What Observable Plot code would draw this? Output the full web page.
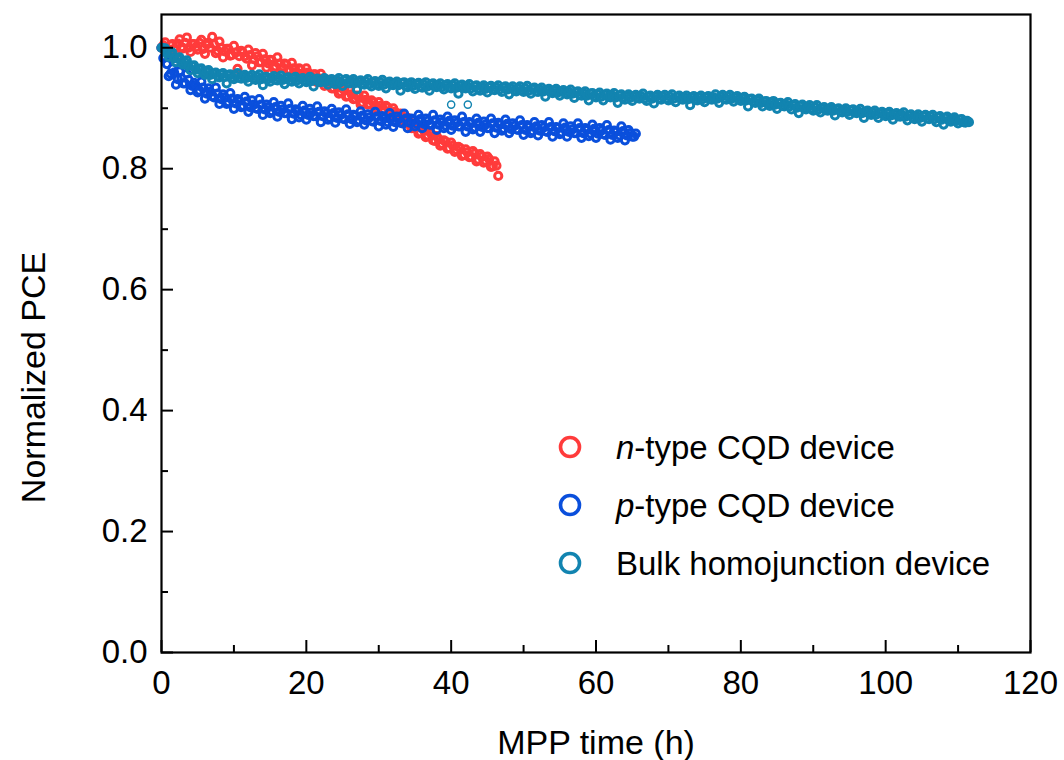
<!DOCTYPE html>
<html>
<head>
<meta charset="utf-8">
<script src="https://cdn.jsdelivr.net/npm/d3@7"></script>
<script src="https://cdn.jsdelivr.net/npm/@observablehq/plot@0.6"></script>
<style>
  body { margin: 0; background: #fff; }
  #chart { position: relative; width: 1064px; height: 760px; font-family: "Liberation Sans", Arial, sans-serif; }
  #legend { position: absolute; left: 0; top: 0; pointer-events: none; }
</style>
</head>
<body>
<div id="chart"></div>
<script>
// MPP tracking: normalized PCE, readings on the hour and half hour (…PCE)
// and on the quarter hours in between (…PCEq)
const stepHours = 0.5;

const nTypePCE = [
  1.000,1.009,0.992,1.006,0.990,1.014,0.999,1.017,0.993,1.006,
  0.997,1.013,0.990,1.008,1.018,0.991,1.010,0.984,0.998,0.987,
  1.003,0.965,0.995,0.986,0.997,0.971,0.991,0.976,0.990,0.967,
  0.980,0.966,0.984,0.958,0.974,0.964,0.975,0.953,0.966,0.953,
  0.966,0.946,0.956,0.943,0.957,0.937,0.947,0.933,0.943,0.924,
  0.933,0.919,0.930,0.915,0.921,0.906,0.921,0.906,0.913,0.897,
  0.910,0.896,0.904,0.888,0.900,0.885,0.891,0.875,0.884,0.867,
  0.874,0.858,0.867,0.852,0.862,0.847,0.854,0.838,0.847,0.833,
  0.843,0.828,0.836,0.821,0.832,0.819,0.829,0.812,0.824,0.810,
  0.820,0.803,0.812,0.788
];
const nTypePCEq = [
  1.004,0.998,1.004,0.998,1.007,1.001,1.008,1.000,1.006,1.001,
  1.008,0.998,1.005,1.000,1.006,0.995,1.000,0.994,0.998,0.988,
  0.992,0.986,0.992,0.982,0.988,0.981,0.986,0.976,0.981,0.974,
  0.979,0.969,0.974,0.967,0.972,0.962,0.966,0.959,0.964,0.954,
  0.959,0.952,0.956,0.945,0.949,0.941,0.944,0.933,0.936,0.927,
  0.930,0.920,0.923,0.916,0.920,0.909,0.914,0.907,0.910,0.900,
  0.904,0.897,0.901,0.890,0.894,0.885,0.887,0.875,0.877,0.867,
  0.871,0.860,0.863,0.855,0.858,0.846,0.849,0.841,0.845,0.834,
  0.838,0.831,0.834,0.823,0.827,0.820,0.825,0.815,0.820,0.813,
  0.816,0.804,0.805
];

const pTypePCE = [
  1.000,0.985,0.953,0.966,0.939,0.961,0.941,0.957,0.930,0.942,
  0.926,0.944,0.916,0.933,0.920,0.934,0.907,0.923,0.907,0.925,
  0.899,0.915,0.902,0.919,0.894,0.913,0.900,0.915,0.889,0.906,
  0.892,0.910,0.886,0.904,0.892,0.908,0.882,0.898,0.885,0.904,
  0.881,0.899,0.887,0.903,0.877,0.895,0.881,0.899,0.876,0.893,
  0.883,0.898,0.874,0.889,0.877,0.895,0.873,0.890,0.879,0.894,
  0.870,0.887,0.873,0.892,0.869,0.886,0.876,0.891,0.867,0.883,
  0.870,0.889,0.867,0.883,0.873,0.889,0.864,0.881,0.867,0.886,
  0.864,0.880,0.870,0.886,0.861,0.877,0.865,0.883,0.861,0.878,
  0.867,0.883,0.859,0.876,0.863,0.881,0.859,0.875,0.865,0.880,
  0.856,0.872,0.859,0.877,0.855,0.872,0.862,0.877,0.853,0.869,
  0.857,0.875,0.853,0.870,0.859,0.875,0.851,0.867,0.854,0.873,
  0.851,0.867,0.857,0.872,0.848,0.863,0.851,0.870,0.847,0.864,
  0.853,0.858
];
const pTypePCEq = [
  0.983,0.973,0.957,0.959,0.948,0.950,0.941,0.947,0.937,0.938,
  0.929,0.934,0.924,0.927,0.918,0.924,0.915,0.918,0.910,0.916,
  0.908,0.912,0.904,0.911,0.902,0.906,0.899,0.906,0.898,0.902,
  0.895,0.902,0.894,0.898,0.892,0.899,0.891,0.895,0.889,0.896,
  0.889,0.893,0.887,0.894,0.887,0.891,0.884,0.892,0.884,0.889,
  0.882,0.890,0.882,0.887,0.880,0.888,0.880,0.885,0.878,0.886,
  0.879,0.883,0.877,0.884,0.877,0.882,0.875,0.883,0.876,0.880,
  0.874,0.882,0.874,0.879,0.873,0.880,0.873,0.877,0.871,0.879,
  0.871,0.876,0.870,0.877,0.870,0.875,0.868,0.876,0.869,0.873,
  0.867,0.875,0.868,0.873,0.866,0.874,0.866,0.871,0.864,0.872,
  0.864,0.869,0.862,0.870,0.863,0.868,0.861,0.869,0.862,0.867,
  0.860,0.868,0.861,0.865,0.859,0.867,0.859,0.864,0.858,0.866,
  0.858,0.863,0.856,0.864,0.856,0.861,0.855,0.862,0.855,0.859,
  0.853
];

const bulkPCE = [
  1.000,0.999,0.985,0.992,0.976,0.984,0.972,0.979,0.963,0.971,
  0.958,0.966,0.955,0.963,0.948,0.959,0.951,0.958,0.941,0.956,
  0.948,0.958,0.949,0.955,0.944,0.955,0.947,0.956,0.938,0.952,
  0.944,0.953,0.946,0.954,0.940,0.951,0.944,0.952,0.941,0.950,
  0.943,0.952,0.936,0.949,0.943,0.950,0.939,0.948,0.940,0.950,
  0.937,0.948,0.941,0.948,0.931,0.946,0.939,0.948,0.936,0.945,
  0.937,0.947,0.933,0.944,0.938,0.944,0.929,0.943,0.935,0.943,
  0.932,0.942,0.934,0.943,0.929,0.941,0.935,0.941,0.931,0.940,
  0.933,0.941,0.924,0.939,0.933,0.940,0.928,0.938,0.929,0.938,
  0.926,0.937,0.930,0.938,0.927,0.936,0.923,0.936,0.928,0.936,
  0.927,0.937,0.924,0.934,0.927,0.934,0.919,0.932,0.925,0.932,
  0.921,0.930,0.923,0.931,0.917,0.928,0.921,0.928,0.913,0.925,
  0.918,0.926,0.913,0.924,0.918,0.925,0.909,0.923,0.914,0.923,
  0.912,0.922,0.916,0.924,0.912,0.921,0.908,0.922,0.914,0.922,
  0.913,0.923,0.910,0.921,0.914,0.921,0.905,0.920,0.913,0.921,
  0.910,0.920,0.914,0.923,0.909,0.922,0.914,0.922,0.911,0.920,
  0.912,0.919,0.903,0.916,0.909,0.916,0.903,0.912,0.904,0.912,
  0.899,0.909,0.903,0.910,0.898,0.907,0.892,0.906,0.898,0.905,
  0.896,0.905,0.893,0.902,0.896,0.902,0.888,0.900,0.893,0.900,
  0.889,0.898,0.892,0.899,0.884,0.896,0.889,0.896,0.884,0.894,
  0.887,0.894,0.881,0.892,0.886,0.893,0.880,0.890,0.882,0.890,
  0.878,0.889,0.882,0.889,0.877,0.887,0.873,0.886,0.878,0.885,
  0.875,0.882,0.876,0.877
];
const bulkPCEq = [
  0.999,0.991,0.990,0.983,0.982,0.976,0.976,0.970,0.970,0.964,
  0.964,0.959,0.960,0.955,0.957,0.953,0.956,0.952,0.955,0.951,
  0.954,0.950,0.953,0.950,0.952,0.949,0.952,0.948,0.951,0.948,
  0.950,0.947,0.950,0.947,0.949,0.946,0.949,0.946,0.948,0.945,
  0.948,0.945,0.947,0.944,0.947,0.944,0.946,0.943,0.946,0.943,
  0.946,0.942,0.945,0.942,0.944,0.941,0.944,0.940,0.943,0.940,
  0.943,0.939,0.942,0.939,0.941,0.938,0.941,0.937,0.940,0.937,
  0.940,0.936,0.939,0.936,0.939,0.936,0.938,0.935,0.938,0.935,
  0.938,0.934,0.937,0.934,0.936,0.933,0.936,0.932,0.935,0.932,
  0.935,0.931,0.934,0.931,0.934,0.931,0.933,0.930,0.933,0.930,
  0.933,0.929,0.932,0.928,0.931,0.928,0.930,0.927,0.929,0.926,
  0.928,0.925,0.927,0.924,0.926,0.922,0.925,0.921,0.924,0.920,
  0.923,0.919,0.922,0.919,0.921,0.918,0.921,0.917,0.920,0.917,
  0.920,0.917,0.920,0.916,0.919,0.916,0.919,0.916,0.919,0.916,
  0.919,0.916,0.919,0.915,0.918,0.915,0.918,0.915,0.918,0.915,
  0.918,0.915,0.918,0.916,0.919,0.916,0.919,0.916,0.918,0.915,
  0.917,0.913,0.915,0.911,0.913,0.909,0.911,0.907,0.909,0.906,
  0.908,0.904,0.906,0.903,0.905,0.901,0.904,0.900,0.902,0.899,
  0.902,0.898,0.900,0.897,0.899,0.896,0.898,0.895,0.897,0.894,
  0.897,0.893,0.895,0.892,0.894,0.891,0.893,0.890,0.892,0.889,
  0.892,0.888,0.890,0.887,0.889,0.886,0.888,0.885,0.887,0.884,
  0.887,0.883,0.886,0.882,0.885,0.881,0.884,0.880,0.882,0.879,
  0.881,0.877,0.879
];

// two isolated readings of the bulk device (time in h, PCE)
const bulkStrayTime = [40.0, 42.3];
const bulkStrayPCE = [0.906, 0.906];

const xMajor = [0, 20, 40, 60, 80, 100, 120];
const xMinor = [10, 30, 50, 70, 90, 110];
const yMajor = [0.0, 0.2, 0.4, 0.6, 0.8, 1.0];
const yMinor = [0.1, 0.3, 0.5, 0.7, 0.9];

const seriesNames = ["n-type CQD device", "p-type CQD device", "Bulk homojunction device"];
const seriesColors = ["#ff3b3b", "#0a4fdc", "#1284b0"];

const toRows = (values, name, offset) => values.map((v, i) => ({t: offset + i * stepHours, v, name}));
const seriesRows = (main, quarter, name) =>
  d3.sort([...toRows(main, name, 0), ...toRows(quarter, name, stepHours / 2)], d => d.t);

const data = [
  ...seriesRows(nTypePCE, nTypePCEq, seriesNames[0]),
  ...seriesRows(pTypePCE, pTypePCEq, seriesNames[1]),
  ...seriesRows(bulkPCE, bulkPCEq, seriesNames[2])
];
const stray = bulkStrayTime.map((t, i) => ({t, v: bulkStrayPCE[i], name: seriesNames[2]}));

const W = 1064, H = 760;
const font = "'Liberation Sans', Arial, sans-serif";

const chart = Plot.plot({
  width: W,
  height: H,
  marginLeft: 161,
  marginRight: 34,
  marginTop: 14,
  marginBottom: 108,
  style: {fontFamily: font, fontSize: "33px", color: "#000", background: "#fff", overflow: "visible"},
  x: {domain: [0, 120]},
  y: {domain: [0, 1.055]},
  color: {domain: seriesNames, range: seriesColors},
  marks: [
    Plot.dot(data, {x: "t", y: "v", stroke: "name", r: 3.6, strokeWidth: 3, fill: "none"}),
    Plot.dot(stray, {x: "t", y: "v", stroke: "name", r: 3.6, strokeWidth: 1.4, fill: "none"}),
    Plot.frame({stroke: "#000", strokeWidth: 2.2}),
    Plot.axisX({ticks: xMajor, tickSize: -12, tickPadding: 30, strokeWidth: 2, tickFormat: d => String(d), label: null}),
    Plot.axisX({ticks: xMinor, tickSize: -7, strokeWidth: 2, tickFormat: () => "", label: null}),
    Plot.axisY({ticks: yMajor, tickSize: -12, tickPadding: 26, strokeWidth: 2, tickFormat: d3.format(".1f"), label: null}),
    Plot.axisY({ticks: yMinor, tickSize: -7, strokeWidth: 2, tickFormat: () => "", label: null}),
    Plot.text(["MPP time (h)"], {frameAnchor: "bottom", dy: 101, lineAnchor: "bottom", textAnchor: "middle", fontSize: 34, text: d => d}),
    Plot.text(["Normalized PCE"], {frameAnchor: "left", dx: -117, dy: 44, rotate: -90, lineAnchor: "bottom", textAnchor: "middle", fontSize: 34, text: d => d})
  ]
});

const host = document.getElementById("chart");
host.appendChild(chart);

// legend: hollow markers with labels, lower right inside the frame
const legend = d3.select(host).append("svg")
  .attr("id", "legend")
  .attr("width", W)
  .attr("height", H);
const rowsY = [447, 505, 563];
const italicPrefix = ["n", "p", null];
seriesNames.forEach((name, i) => {
  legend.append("circle")
    .attr("cx", 570).attr("cy", rowsY[i]).attr("r", 9.5)
    .attr("fill", "none").attr("stroke", seriesColors[i]).attr("stroke-width", 3.6);
  const txt = legend.append("text")
    .attr("x", 616).attr("y", rowsY[i]).attr("dy", "0.35em")
    .attr("font-family", font).attr("font-size", 33).attr("fill", "#000");
  if (italicPrefix[i]) {
    txt.append("tspan").attr("font-style", "italic").text(italicPrefix[i]);
    txt.append("tspan").text(name.slice(1));
  } else {
    txt.text(name);
  }
});
</script>
</body>
</html>
